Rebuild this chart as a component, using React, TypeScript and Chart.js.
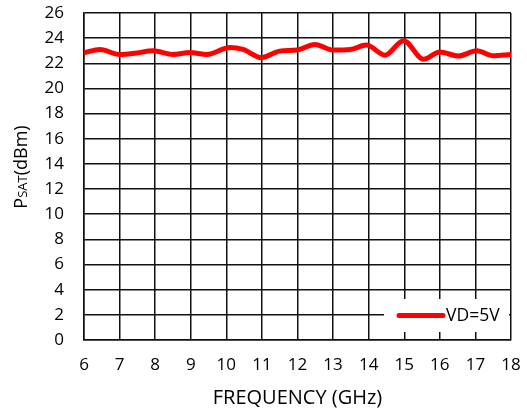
import React, { useEffect, useRef } from "react";
import { Chart, registerables } from "chart.js";

Chart.register(...registerables);

const freqGHz = [6, 6.45, 7.0, 7.43, 7.94, 8.5, 8.98, 9.45, 10.1, 10.47, 10.99, 11.5, 11.98, 12.49, 13.0, 13.48, 13.94, 14.46, 14.98, 15.54, 16.0, 16.52, 17.04, 17.5, 18];
const psatVD5 = [22.84, 23.1, 22.7, 22.8, 23.0, 22.7, 22.85, 22.7, 23.25, 23.1, 22.45, 22.97, 23.05, 23.5, 23.05, 23.1, 23.45, 22.65, 23.8, 22.33, 22.9, 22.58, 23.0, 22.6, 22.7];
const seriesLabel = "VD=5V";
const xTitle = "FREQUENCY (GHz)";
const yTitleMain = "P";
const yTitleSub = "SAT";
const yTitleTail = "(dBm)";

const FONT = "'Open Sans', sans-serif";

export default function App() {
  const ref = useRef<HTMLCanvasElement | null>(null);
  useEffect(() => {
    document.body.style.margin = "0";
    const canvas = ref.current!;
    const customPlugin = {
      id: "custom",
      afterDatasetsDraw(chart: any) {
        const ctx = chart.ctx;
        const ca = chart.chartArea;
        ctx.save();
        // legend box
        const bx = ca.right - 127, by = ca.bottom - 41, bw = 125, bh = 33;
        ctx.fillStyle = "#fff";
        ctx.fillRect(bx, by, bw, bh);
        const ly = by + bh / 2;
        ctx.strokeStyle = "#ff0000";
        ctx.lineWidth = 5;
        ctx.lineCap = "round";
        ctx.beginPath();
        ctx.moveTo(bx + 15, ly);
        ctx.lineTo(bx + 59, ly);
        ctx.stroke();
        ctx.fillStyle = "#000";
        ctx.font = `17.5px ${FONT}`;
        ctx.textBaseline = "middle";
        ctx.textAlign = "left";
        ctx.fillText(chart.data.datasets[0].label, bx + 62, ly + 1);
        // x title
        ctx.textAlign = "center";
        ctx.font = `20px ${FONT}`;
        ctx.fillText(xTitle, (ca.left + ca.right) / 2, 398);
        // y title
        ctx.translate(21, 167);
        ctx.rotate(-Math.PI / 2);
        const fMain = `18px ${FONT}`;
        const fSub = `13px ${FONT}`;
        ctx.font = fMain;
        const w1 = ctx.measureText(yTitleMain).width;
        const w3 = ctx.measureText(yTitleTail).width;
        ctx.font = fSub;
        const w2 = ctx.measureText(yTitleSub).width;
        let x = -(w1 + w2 + w3) / 2;
        ctx.textAlign = "left";
        ctx.textBaseline = "alphabetic";
        ctx.font = fMain;
        ctx.fillText(yTitleMain, x, 6);
        x += w1;
        ctx.font = fSub;
        ctx.fillText(yTitleSub, x, 6);
        x += w2;
        ctx.font = fMain;
        ctx.fillText(yTitleTail, x, 6);
        ctx.restore();
      },
    };
    const chart = new Chart(canvas, {
      type: "line",
      data: {
        datasets: [
          {
            label: seriesLabel,
            data: freqGHz.map((f, i) => ({ x: f, y: psatVD5[i] })),
            borderColor: "#ff0000",
            borderWidth: 5,
            pointRadius: 0,
            cubicInterpolationMode: "monotone",
            fill: false,
          },
        ],
      },
      options: {
        responsive: false,
        animation: false,
        layout: { padding: { top: 13, right: 16, left: 0, bottom: 0 } },
        plugins: { legend: { display: false }, tooltip: { enabled: false } },
        scales: {
          x: {
            type: "linear",
            min: 6,
            max: 18,
            ticks: { stepSize: 1, color: "#000", font: { family: FONT, size: 17 }, padding: 15 },
            grid: { color: "#111", lineWidth: 1.5, drawTicks: false },
            border: { color: "#111", width: 1.5 },
            afterFit: (s: any) => {
              s.height = 70;
              s.paddingLeft = 0; s.paddingRight = 0; s.paddingTop = 0; s.paddingBottom = 0;
            },
          },
          y: {
            min: 0,
            max: 26,
            ticks: { stepSize: 2, color: "#000", font: { family: FONT, size: 17 }, padding: 20 },
            grid: { color: "#111", lineWidth: 1.5, drawTicks: false },
            border: { color: "#111", width: 1.5 },
            afterFit: (s: any) => {
              s.width = 84;
              s.paddingLeft = 0; s.paddingRight = 0; s.paddingTop = 0; s.paddingBottom = 0;
            },
          },
        },
      },
      plugins: [customPlugin],
    } as any);
    return () => chart.destroy();
  }, []);
  return (
    <div style={{ width: 527, height: 410 }}>
      <canvas ref={ref} width={527} height={410} style={{ display: "block" }} />
    </div>
  );
}
